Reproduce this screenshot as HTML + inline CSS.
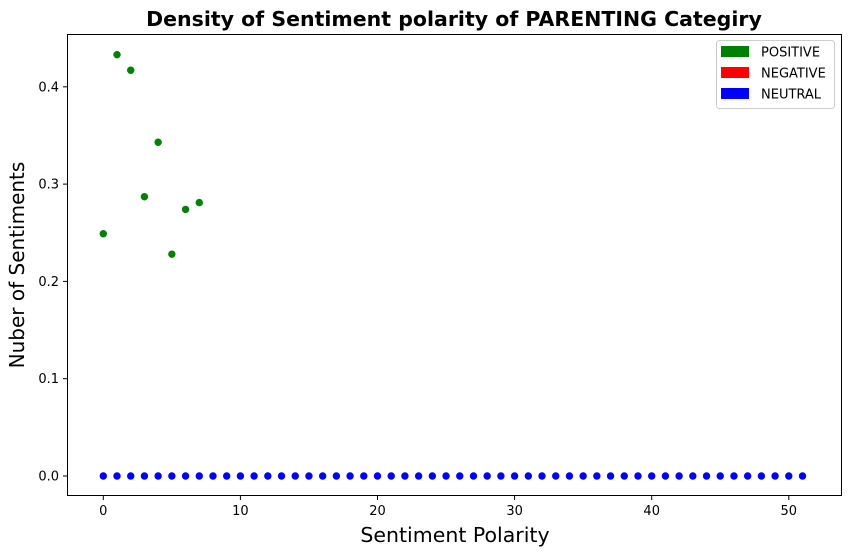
<!DOCTYPE html>
<html><head><meta charset="utf-8"><style>
body{margin:0;background:#fff;}
svg{display:block;font-family:"DejaVu Sans","Liberation Sans",sans-serif;}
</style></head><body>
<svg id="chart" width="852" height="555">
<text x="454" y="26" text-anchor="middle" font-size="20.5" font-weight="bold">Density of Sentiment polarity of PARENTING Categiry</text>
<rect x="67.5" y="34.5" width="774" height="461" fill="none" stroke="#000" stroke-width="1"/>
<g id="xticks"></g>
<g id="yticks"></g>
<g id="marks"></g>
<text x="455" y="542" text-anchor="middle" font-size="20.5">Sentiment Polarity</text>
<text transform="translate(24,265) rotate(-90)" text-anchor="middle" font-size="20">Nuber of Sentiments</text>
<g>
<rect x="716.5" y="40.5" width="118" height="68" rx="3" fill="#fff" stroke="#ccc"/>
<g><rect x="721" y="46" width="28" height="11" fill="green"/><text x="761" y="56.5" font-size="13">POSITIVE</text></g>
<g><rect x="721" y="67" width="28" height="11" fill="red"/><text x="761" y="77.5" font-size="13">NEGATIVE</text></g>
<g><rect x="721" y="88" width="28" height="11" fill="blue"/><text x="761" y="98.5" font-size="13">NEUTRAL</text></g>
</g>
</svg>
<script>
const positiveX=[0,1,2,3,4,5,6,7];
const positiveY=[0.249,0.433,0.417,0.287,0.343,0.228,0.274,0.281];
const neutralCount=52;
const neutralValue=0;
const xTicks=[0,10,20,30,40,50];
const yTicks=[0.0,0.1,0.2,0.3,0.4];
const NS="http://www.w3.org/2000/svg";
const xs=v=>103.3+v*13.71;
const ys=v=>476-v*973;
function mk(t,a,p){const e=document.createElementNS(NS,t);for(const k in a)e.setAttribute(k,a[k]);p.appendChild(e);return e;}
const gx=document.getElementById('xticks'),gy=document.getElementById('yticks'),gm=document.getElementById('marks');
xTicks.forEach(t=>{const x=xs(t);
const l=mk('line',{x1:x,x2:x,y1:495.5,y2:500,stroke:'#000'},gx);


const tx=mk('text',{x:x,y:515,'text-anchor':'middle','font-size':13},gx);tx.textContent=t;

});
yTicks.forEach(t=>{const y=ys(t);
const l=mk('line',{x1:63,x2:67.5,y1:y,y2:y,stroke:'#000'},gy);


const tx=mk('text',{x:59,y:y+4.5,'text-anchor':'end','font-size':13},gy);tx.textContent=t.toFixed(1);

});
positiveX.forEach((v,i)=>{const c=mk('circle',{cx:xs(v),cy:ys(positiveY[i]),r:3.7,fill:'green'},gm);

});
for(let i=0;i<neutralCount;i++){const c=mk('circle',{cx:xs(i),cy:ys(neutralValue),r:3.7,fill:'blue'},gm);

}
</script>
</body></html>
